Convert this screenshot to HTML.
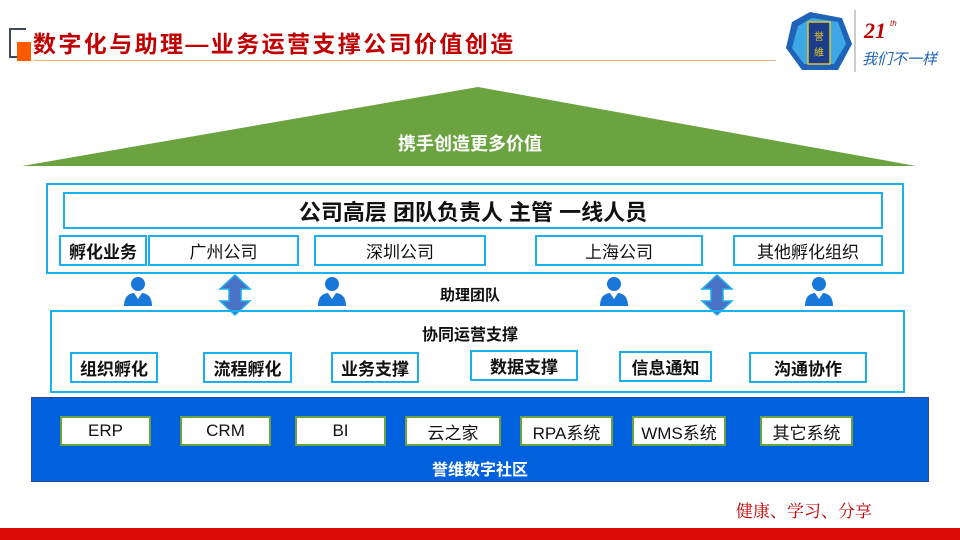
<!DOCTYPE html>
<html><head><meta charset="utf-8"><style>
*{margin:0;padding:0;box-sizing:border-box}
body{width:960px;height:540px;background:#fff;position:relative;overflow:hidden;font-family:"Liberation Sans","Noto Sans CJK SC",sans-serif}
.a{position:absolute}
.b{position:absolute;border:2px solid #1ab0ef;background:#fff;display:flex;align-items:center;justify-content:center;font-size:17px;color:#111}
.k{font-weight:bold}
.g{position:absolute;border:2px solid #6aa33f;background:#fff;display:flex;align-items:center;justify-content:center;font-size:17px;color:#111}
.t{position:absolute;text-align:center;font-weight:bold;color:#111}
</style></head><body>
<div class="a" style="left:9px;top:28px;width:17px;height:30px;border:2px solid #3d4a5a;border-right:none"></div>
<div class="a" style="left:9px;top:28px;width:17px;height:2px;background:#3d4a5a"></div>
<div class="a" style="left:17px;top:42px;width:14px;height:19px;background:#ff5a00"></div>
<div class="a" style="left:33px;top:25px;font-size:23px;letter-spacing:2.4px;font-weight:bold;color:#c00000">数字化与助理—业务运营支撑公司价值创造</div>
<div class="a" style="left:34px;top:60px;width:742px;height:1px;background:#f0b080"></div>
<svg class="a" style="left:780px;top:8px" width="170" height="66">
<polygon points="30,4 62,10 72,36 58,62 22,62 6,40 12,14" fill="#1e63b8"/>
<polygon points="32,10 58,14 66,36 54,56 24,56 12,40 18,18" fill="#3ea8e6"/>
<rect x="28" y="14" width="22" height="42" fill="#1a3d8c" stroke="#e6c22a" stroke-width="1.5"/>
<text x="39" y="32" font-size="10" fill="#e6c22a" text-anchor="middle">誉</text>
<text x="39" y="48" font-size="10" fill="#e6c22a" text-anchor="middle">維</text>
<line x1="75" y1="2" x2="75" y2="64" stroke="#999"/>
<text x="84" y="30" font-size="22" font-style="italic" font-weight="bold" fill="#c00000" font-family="Liberation Serif">21</text>
<text x="110" y="18" font-size="8" font-style="italic" fill="#c00000">th</text>
<text x="82" y="56" font-size="15" font-style="italic" fill="#1e63b8">我们不一样</text>
</svg>
<svg class="a" style="left:0;top:0" width="960" height="180"><polygon points="478,87 916,166 22,166" fill="#6aa33f"/></svg>
<div class="t" style="left:0;width:940px;top:130px;font-size:18px;color:#fff">携手创造更多价值</div>
<div class="a" style="left:46px;top:183px;width:858px;height:91px;border:2px solid #1ab0ef"></div>
<div class="b k" style="left:63px;top:192px;width:820px;height:37px;font-size:22px">公司高层 团队负责人 主管 一线人员</div>
<div class="b k" style="left:59px;top:235px;width:88px;height:31px">孵化业务</div>
<div class="b" style="left:148px;top:235px;width:151px;height:31px">广州公司</div>
<div class="b" style="left:314px;top:235px;width:172px;height:31px">深圳公司</div>
<div class="b" style="left:535px;top:235px;width:168px;height:31px">上海公司</div>
<div class="b" style="left:733px;top:235px;width:150px;height:31px">其他孵化组织</div>
<svg class="a" style="left:0;top:272px" width="960" height="45">
<g fill="#1877d8">
<g transform="translate(138,0)"><circle cx="0" cy="12" r="7"/><path d="M-14,34 Q-14,22 -4,21 L0,27 L4,21 Q14,22 14,34Z"/></g>
<g transform="translate(332,0)"><circle cx="0" cy="12" r="7"/><path d="M-14,34 Q-14,22 -4,21 L0,27 L4,21 Q14,22 14,34Z"/></g>
<g transform="translate(614,0)"><circle cx="0" cy="12" r="7"/><path d="M-14,34 Q-14,22 -4,21 L0,27 L4,21 Q14,22 14,34Z"/></g>
<g transform="translate(819,0)"><circle cx="0" cy="12" r="7"/><path d="M-14,34 Q-14,22 -4,21 L0,27 L4,21 Q14,22 14,34Z"/></g>
</g>
<polygon points="235,3 250,17 241,17 241,29 250,29 235,43 220,29 229,29 229,17 220,17" fill="#4a72c4" stroke="#1ab0ef" stroke-width="1.5"/>
<polygon points="717,3 732,17 723,17 723,29 732,29 717,43 702,29 711,29 711,17 702,17" fill="#4a72c4" stroke="#1ab0ef" stroke-width="1.5"/>
</svg>
<div class="t" style="left:420px;width:100px;top:284px;font-size:15px">助理团队</div>
<div class="a" style="left:50px;top:310px;width:855px;height:83px;border:2px solid #1ab0ef"></div>
<div class="t" style="left:390px;width:160px;top:321px;font-size:16px">协同运营支撑</div>
<div class="b k" style="left:70px;top:352px;width:88px;height:31px">组织孵化</div>
<div class="b k" style="left:203px;top:352px;width:89px;height:31px">流程孵化</div>
<div class="b k" style="left:331px;top:352px;width:88px;height:31px">业务支撑</div>
<div class="b k" style="left:470px;top:350px;width:108px;height:31px">数据支撑</div>
<div class="b k" style="left:619px;top:351px;width:93px;height:31px">信息通知</div>
<div class="b k" style="left:749px;top:352px;width:118px;height:31px">沟通协作</div>
<div class="a" style="left:31px;top:397px;width:898px;height:85px;background:#0060dd;border:1px solid #2a4a8a"></div>
<div class="g" style="left:60px;top:416px;width:91px;height:30px">ERP</div>
<div class="g" style="left:180px;top:416px;width:91px;height:30px">CRM</div>
<div class="g" style="left:295px;top:416px;width:91px;height:30px">BI</div>
<div class="g" style="left:405px;top:416px;width:96px;height:30px">云之家</div>
<div class="g" style="left:520px;top:416px;width:93px;height:30px">RPA系统</div>
<div class="g" style="left:632px;top:416px;width:94px;height:30px">WMS系统</div>
<div class="g" style="left:760px;top:416px;width:93px;height:30px">其它系统</div>
<div class="t" style="left:380px;width:200px;top:456px;font-size:16px;color:#fff">誉维数字社区</div>
<div class="a" style="left:736px;top:497px;font-size:17px;color:#c00000;font-family:'Liberation Serif','Noto Serif CJK SC',serif">健康、学习、分享</div>
<div class="a" style="left:0;top:528px;width:960px;height:12px;background:#dd0a0a"></div>
</body></html>
